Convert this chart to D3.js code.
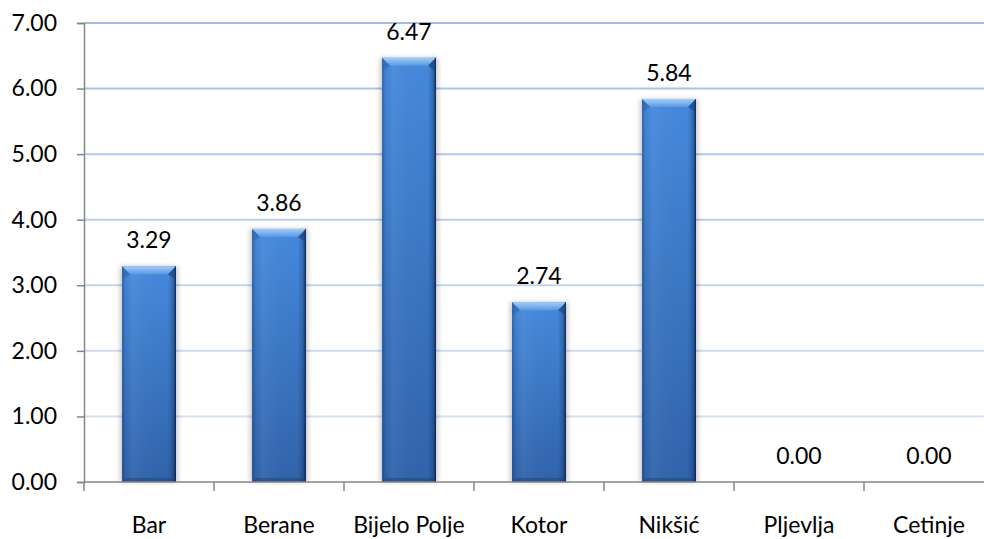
<!DOCTYPE html>
<html>
<head>
<meta charset="utf-8">
<script src="https://cdn.jsdelivr.net/npm/d3@7"></script>
<style>
  html, body { margin: 0; padding: 0; background: #fff; }
  svg { display: block; }
  text { font-family: Lato, "Open Sans", sans-serif; fill: #000; }
</style>
</head>
<body>
<svg id="chart" width="984" height="539"></svg>
<script>
// Towns and their values
const categories = ["Bar", "Berane", "Bijelo Polje", "Kotor", "Nikšić", "Pljevlja", "Cetinje"];
const values = [3.29, 3.86, 6.47, 2.74, 5.84, 0.00, 0.00];
const yTicks = [0, 1, 2, 3, 4, 5, 6, 7];

const W = 984, H = 539;
const plotLeft = 84, plotRight = 994, plotTop = 23, plotBottom = 482;
const fontSize = 23;

const svg = d3.select("#chart");
const defs = svg.append("defs");

const x = d3.scaleBand()
  .domain(categories)
  .range([plotLeft, plotRight])
  .paddingInner(0.585)
  .paddingOuter(0.2925);

const y = d3.scaleLinear().domain([0, 7]).range([plotBottom, plotTop]);

// gridline colour fades from blue at the top to pale at the bottom
const gridColor = d3.scaleLinear().domain([0, 7]).range(["#dfe7f4", "#a3bce6"]);

svg.append("g").selectAll("line")
  .data(yTicks.filter(d => d > 0))
  .join("line")
  .attr("x1", plotLeft).attr("x2", W)
  .attr("y1", d => y(d)).attr("y2", d => y(d))
  .attr("stroke", d => gridColor(d))
  .attr("stroke-width", 2);

// gradients and filters for the bevelled bars
const body = defs.append("linearGradient").attr("id", "barBody")
  .attr("x1", 0).attr("y1", 0).attr("x2", 0).attr("y2", 1);
body.append("stop").attr("offset", "0%").attr("stop-color", "#4589dc");
body.append("stop").attr("offset", "100%").attr("stop-color", "#3063aa");

const sides = defs.append("linearGradient").attr("id", "barSides")
  .attr("x1", 0).attr("y1", 0).attr("x2", 1).attr("y2", 0);
sides.append("stop").attr("offset", "0%").attr("stop-color", "#0a2a5a").attr("stop-opacity", 0.35);
sides.append("stop").attr("offset", "7%").attr("stop-color", "#0a2a5a").attr("stop-opacity", 0.05);
sides.append("stop").attr("offset", "20%").attr("stop-color", "#ffffff").attr("stop-opacity", 0.05);
sides.append("stop").attr("offset", "85%").attr("stop-color", "#0a2a5a").attr("stop-opacity", 0.0);
sides.append("stop").attr("offset", "94%").attr("stop-color", "#0a2a5a").attr("stop-opacity", 0.3);
sides.append("stop").attr("offset", "100%").attr("stop-color", "#061a3a").attr("stop-opacity", 0.75);

const bevel = defs.append("linearGradient").attr("id", "barBevel")
  .attr("x1", 0).attr("y1", 0).attr("x2", 0).attr("y2", 1);
bevel.append("stop").attr("offset", "0%").attr("stop-color", "#a4ccf6");
bevel.append("stop").attr("offset", "100%").attr("stop-color", "#5a97e2");

const shadow = defs.append("filter").attr("id", "barShadow")
  .attr("x", "-30%").attr("y", "-10%").attr("width", "160%").attr("height", "120%");
shadow.append("feGaussianBlur").attr("stdDeviation", 2.5);

const bars = svg.append("g").selectAll("g")
  .data(categories.map((c, i) => ({ c, v: values[i] })).filter(d => d.v > 0))
  .join("g");

const bw = x.bandwidth();

bars.append("rect")
  .attr("x", d => x(d.c) - 2).attr("y", d => y(d.v))
  .attr("width", bw + 4).attr("height", d => y(0) - y(d.v))
  .attr("fill", "#000").attr("opacity", 0.22)
  .attr("filter", "url(#barShadow)");

bars.append("rect")
  .attr("x", d => x(d.c)).attr("y", d => y(d.v))
  .attr("width", bw).attr("height", d => y(0) - y(d.v))
  .attr("fill", "url(#barBody)");

bars.append("rect")
  .attr("x", d => x(d.c)).attr("y", d => y(d.v))
  .attr("width", bw).attr("height", d => y(0) - y(d.v))
  .attr("fill", "url(#barSides)");

// top bevel
const bv = 8;
bars.append("path")
  .attr("d", d => {
    const x0 = x(d.c), x1 = x0 + bw, t = y(d.v);
    return `M${x0},${t}L${x1},${t}L${x1 - bv},${t + bv}L${x0 + bv},${t + bv}Z`;
  })
  .attr("fill", "url(#barBevel)");
bars.append("path")
  .attr("d", d => {
    const x0 = x(d.c), t = y(d.v);
    return `M${x0},${t}L${x0 + bv},${t + bv}L${x0 + 2},${t + bv + 4}L${x0},${t + bv + 4}Z`;
  })
  .attr("fill", "#2f62aa").attr("opacity", 0.6);
bars.append("path")
  .attr("d", d => {
    const x1 = x(d.c) + bw, t = y(d.v);
    return `M${x1},${t}L${x1 - bv},${t + bv}L${x1 - 2},${t + bv + 4}L${x1},${t + bv + 4}Z`;
  })
  .attr("fill", "#1d4680").attr("opacity", 0.7);

// bottom bevel
bars.append("path")
  .attr("d", d => {
    const x0 = x(d.c), x1 = x0 + bw, b = y(0);
    return `M${x0},${b}L${x1},${b}L${x1 - 4},${b - 4}L${x0 + 4},${b - 4}Z`;
  })
  .attr("fill", "#1c3f72").attr("opacity", 0.45);

// right edge line
bars.append("line")
  .attr("x1", d => x(d.c) + bw - 0.5).attr("x2", d => x(d.c) + bw - 0.5)
  .attr("y1", d => y(d.v)).attr("y2", y(0))
  .attr("stroke", "#13294d").attr("stroke-width", 1).attr("opacity", 0.7);

// value labels
svg.append("g").selectAll("text")
  .data(categories.map((c, i) => ({ c, v: values[i] })))
  .join("text")
  .attr("x", d => x(d.c) + bw / 2)
  .attr("y", d => y(d.v) - 18)
  .attr("text-anchor", "middle")
  .attr("font-size", fontSize)
  .text(d => d3.format(".2f")(d.v));

// y axis
const yAxis = svg.append("g")
  .attr("transform", `translate(${plotLeft},0)`)
  .call(d3.axisLeft(y).tickValues(yTicks).tickFormat(d3.format(".2f")).tickSize(7).tickPadding(20));
yAxis.select(".domain").attr("stroke", "#868686").attr("stroke-width", 1.5);
yAxis.selectAll(".tick line").attr("stroke", "#868686").attr("stroke-width", 1.5);
yAxis.selectAll(".tick text")
  .attr("font-size", fontSize).attr("font-family", "Lato, 'Open Sans', sans-serif").attr("fill", "#000");

// x axis line with ticks between categories
const xg = svg.append("g");
xg.append("line")
  .attr("x1", plotLeft).attr("x2", plotRight)
  .attr("y1", y(0)).attr("y2", y(0))
  .attr("stroke", "#868686").attr("stroke-width", 1.5);
xg.selectAll("line.tick")
  .data(d3.range(categories.length + 1))
  .join("line").attr("class", "tick")
  .attr("x1", i => plotLeft + i * x.step()).attr("x2", i => plotLeft + i * x.step())
  .attr("y1", y(0)).attr("y2", y(0) + 9)
  .attr("stroke", "#868686").attr("stroke-width", 1.5);
xg.selectAll("text")
  .data(categories)
  .join("text")
  .attr("x", d => x(d) + bw / 2)
  .attr("y", 533)
  .attr("text-anchor", "middle")
  .attr("font-size", fontSize)
  .text(d => d);
</script>
</body>
</html>
